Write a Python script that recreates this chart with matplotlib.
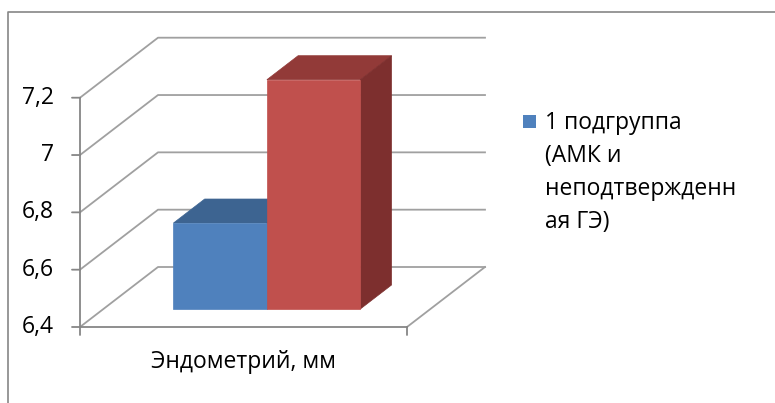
import matplotlib
matplotlib.use("Agg")
import matplotlib.pyplot as plt
from matplotlib.patches import Polygon, Rectangle
from matplotlib.lines import Line2D

plt.rcParams['font.family'] = ['Open Sans', 'DejaVu Sans']

# data
category = "Эндометрий, мм"
series_values = [6.7, 7.2]
series_front = ["#4f81bd", "#c0504d"]
series_top = ["#3d6491", "#923a38"]
series_side = ["#34557c", "#7d2f2e"]
legend_lines = ["1 подгруппа", "(АМК и", "неподтвержденн", "ая ГЭ)"]
y_ticks = [6.4, 6.6, 6.8, 7.0, 7.2]
y_tick_labels = ["6,4", "6,6", "6,8", "7", "7,2"]

W, H = 775, 403
fig = plt.figure(figsize=(W / 100, H / 100), dpi=100)
fig.patch.set_facecolor("white")

def fx(px):
    return px / W

def fy(py):
    return 1 - py / H

# front plane of the plot area
left_px, right_px = 80, 407
bottom_px, top_px = 327, 97.7
ax = fig.add_axes([fx(left_px), fy(bottom_px), (right_px - left_px) / W,
                   (bottom_px - top_px) / H])
ymin, ymax = y_ticks[0], y_ticks[-1]
ax.set_xlim(0, 1)
ax.set_ylim(ymin, ymax)
ax.axis("off")

# depth direction: full depth shifts right and up
depth_dx = 78 / (right_px - left_px)
depth_dv = 60 / ((bottom_px - top_px) / (ymax - ymin))

def P(x, v, d):
    return (x + d * depth_dx, v + d * depth_dv)

grid_c = "#a0a0a0"
axis_c = "#868686"
lw = 1.3

# walls: left-wall diagonals and back-wall lines
for v in y_ticks:
    xs, ys = zip(P(0, v, 0), P(0, v, 1), P(1, v, 1))
    ax.add_line(Line2D(xs, ys, color=grid_c, lw=lw, clip_on=False, zorder=1))
# floor right edge
xs, ys = zip(P(1, ymin, 0), P(1, ymin, 1))
ax.add_line(Line2D(xs, ys, color=grid_c, lw=lw, clip_on=False, zorder=1))

# value axis and category axis
ax.add_line(Line2D([0, 0], [ymin, ymax], color=axis_c, lw=lw, clip_on=False, zorder=2))
ax.add_line(Line2D([0, 1], [ymin, ymin], color=axis_c, lw=lw, clip_on=False, zorder=2))
for v, lab in zip(y_ticks, y_tick_labels):
    ax.annotate("", xy=(0, v), xytext=(-8, 0), textcoords="offset pixels",
                arrowprops=dict(arrowstyle="-", color=axis_c, lw=lw,
                                shrinkA=0, shrinkB=0), annotation_clip=False)
    ax.annotate(lab, xy=(0, v), xytext=(-26, 0), textcoords="offset pixels",
                ha="right", va="center", fontsize=16.5, color="#000000",
                annotation_clip=False)
for xv in (0, 1):
    ax.annotate("", xy=(xv, ymin), xytext=(0, -8), textcoords="offset pixels",
                arrowprops=dict(arrowstyle="-", color=axis_c, lw=lw,
                                shrinkA=0, shrinkB=0), annotation_clip=False)
ax.annotate(category, xy=(0.5, ymin), xytext=(0, -35), textcoords="offset pixels",
            ha="center", va="center", fontsize=16.5, color="#000000",
            annotation_clip=False)

# 3-D columns, gap width 150%
n = len(series_values)
bw = 1 / (n + 1.5)
d0, d1 = 0.3, 0.7
for i, val in enumerate(series_values):
    x0 = 0.5 - n * bw / 2 + i * bw
    x1 = x0 + bw
    z = 5 + i
    front = [P(x0, ymin, d0), P(x1, ymin, d0), P(x1, val, d0), P(x0, val, d0)]
    top = [P(x0, val, d0), P(x1, val, d0), P(x1, val, d1), P(x0, val, d1)]
    side = [P(x1, ymin, d0), P(x1, ymin, d1), P(x1, val, d1), P(x1, val, d0)]
    for poly, col in ((top, series_top[i]), (side, series_side[i]),
                      (front, series_front[i])):
        ax.add_patch(Polygon(poly, closed=True, facecolor=col, edgecolor=col,
                             lw=0.5, clip_on=False, zorder=z))

# legend
fig.patches.append(Rectangle((fx(523), fy(128)), 13 / W, 13 / H,
                             transform=fig.transFigure, facecolor=series_front[0],
                             edgecolor="none"))
for k, line in enumerate(legend_lines):
    fig.text(fx(545), fy(129 + 33 * k), line, ha="left", va="baseline",
             fontsize=16.5, color="#000000")

# chart frame
fig.add_artist(Line2D([fx(8), fx(8), 1], [0, fy(12), fy(12)], transform=fig.transFigure,
                      color=axis_c, lw=1.2))

fig.savefig("out.png", dpi=100)
